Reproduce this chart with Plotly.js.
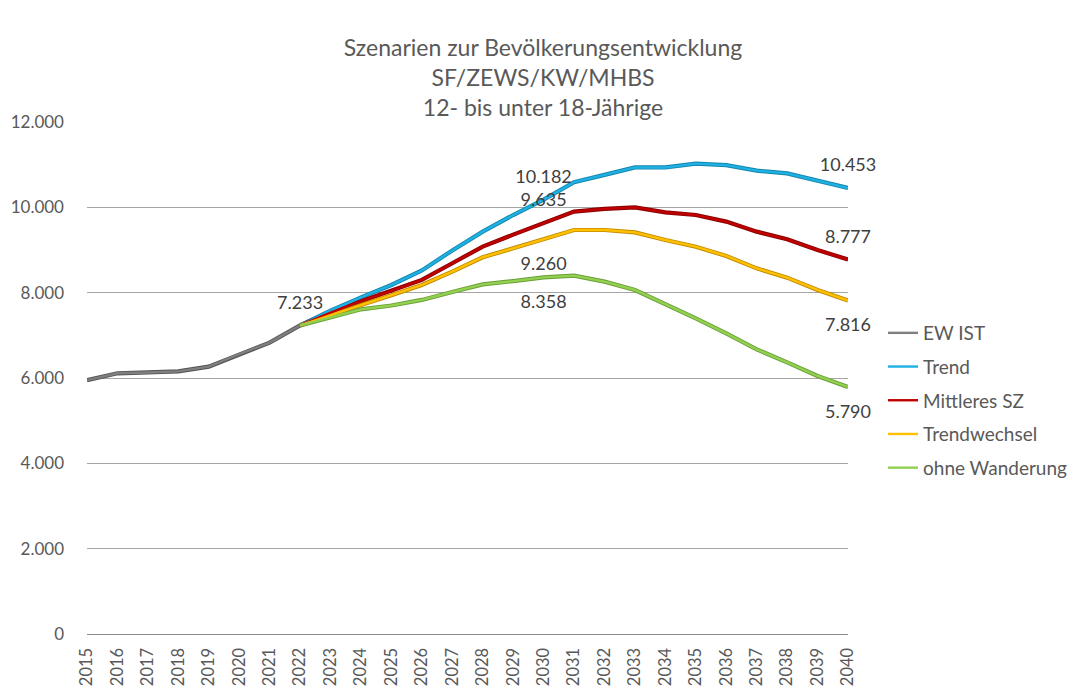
<!DOCTYPE html>
<html>
<head>
<meta charset="utf-8">
<script src="https://cdn.plot.ly/plotly-3.0.1.min.js"></script>
<style>html,body{margin:0;padding:0;background:#fff;}#chart{width:1072px;height:686px;}</style>
</head>
<body>
<div id="chart"></div>
<script>
var yearsIst = [2015, 2016, 2017, 2018, 2019, 2020, 2021, 2022];
var ewIst = [5950, 6110, 6130, 6155, 6265, 6560, 6830, 7233];

var yearsProg = [2022, 2023, 2024, 2025, 2026, 2027, 2028, 2029, 2030, 2031, 2032, 2033, 2034, 2035, 2036, 2037, 2038, 2039, 2040];
var trend = [7233, 7580, 7890, 8180, 8520, 8990, 9430, 9820, 10182, 10590, 10760, 10935, 10935, 11025, 10990, 10860, 10795, 10625, 10453];
var mittleres = [7233, 7530, 7800, 8040, 8300, 8690, 9080, 9360, 9635, 9900, 9965, 10000, 9883, 9820, 9665, 9430, 9250, 9000, 8777];
var trendwechsel = [7233, 7480, 7710, 7940, 8180, 8495, 8830, 9040, 9260, 9469, 9469, 9414, 9234, 9078, 8860, 8570, 8352, 8063, 7816];
var ohneWanderung = [7233, 7420, 7610, 7700, 7830, 8015, 8195, 8270, 8358, 8400, 8258, 8063, 7734, 7398, 7047, 6672, 6367, 6047, 5790];

var seriesNames = ['EW IST', 'Trend', 'Mittleres SZ', 'Trendwechsel', 'ohne Wanderung'];
var seriesColors = ['#7f7f7f', '#1fb1e3', '#c00000', '#ffc000', '#92d050'];
var seriesEdges = ['#555555', '#1486ad', '#8a0000', '#c08a00', '#6a9e38'];

var titleLines = ['Szenarien zur Bevölkerungsentwicklung', 'SF/ZEWS/KW/MHBS', '12- bis unter 18-Jährige'];
var tickYears = [];
for (var yy = 2015; yy <= 2040; yy++) tickYears.push(yy);

var seriesX = [yearsIst, yearsProg, yearsProg, yearsProg, yearsProg];
var seriesY = [ewIst, trend, mittleres, trendwechsel, ohneWanderung];

// label definitions: [seriesIndex, year, position]
var labelDefs = [
  [0, 2022, 'top center'],
  [1, 2030, 'top center'],
  [2, 2030, 'top center'],
  [3, 2030, 'bottom center'],
  [4, 2030, 'bottom center'],
  [1, 2040, 'top center'],
  [2, 2040, 'top center'],
  [3, 2040, 'bottom center'],
  [4, 2040, 'bottom center']
];

var font = 'Lato, "Open Sans", sans-serif';
var traces = [];
// edges
for (var i = 0; i < seriesNames.length; i++) {
  traces.push({
    x: seriesX[i], y: seriesY[i], type: 'scatter', mode: 'lines',
    line: {color: seriesEdges[i], width: 4.2},
    showlegend: false, hoverinfo: 'skip'
  });
}
for (var i = 0; i < seriesNames.length; i++) {
  traces.push({
    x: seriesX[i], y: seriesY[i], type: 'scatter', mode: 'lines',
    name: seriesNames[i],
    line: {color: seriesColors[i], width: 2.4},
    legendgroup: 'g' + i
  });
}
labelDefs.forEach(function (d) {
  var idx = seriesX[d[0]].indexOf(d[1]);
  traces.push({
    x: [d[1]], y: [seriesY[d[0]][idx]], type: 'scatter', mode: 'markers+text',
    marker: {size: d[2].indexOf('top') === 0 ? 18 : 26, color: 'rgba(0,0,0,0)'},
    texttemplate: '%{y:,.0f}', textposition: d[2],
    textfont: {family: font, size: 18, color: '#404040'},
    showlegend: false, hoverinfo: 'skip', cliponaxis: false
  });
});

var layout = {
  width: 1072, height: 686,
  paper_bgcolor: '#ffffff', plot_bgcolor: '#ffffff',
  separators: ',.',
  margin: {l: 87, r: 224, t: 122, b: 52, pad: 0, autoexpand: false},
  font: {family: font, color: '#595959'},
  title: {
    text: titleLines.join('<br>'),
    font: {family: font, size: 23, color: '#595959'},
    x: 543 / 1072, xanchor: 'center', xref: 'container',
    y: 1 - 56 / 686, yanchor: 'middle', yref: 'container'
  },
  xaxis: {
    type: 'linear', range: [2015, 2040],
    tickmode: 'array', tickvals: tickYears, ticktext: tickYears.map(String),
    tickangle: -90, tickfont: {family: font, size: 16.5, color: '#595959'},
    showgrid: false, zeroline: false,
    showline: true, linecolor: '#8c8c8c', linewidth: 1.3,
    ticks: '', ticklabelstandoff: 6, automargin: false
  },
  yaxis: {
    range: [0, 12000], tickmode: 'array',
    tickvals: [0, 2000, 4000, 6000, 8000, 10000, 12000],
    tickformat: ',.0f',
    tickfont: {family: font, size: 17, color: '#595959'},
    showgrid: true, gridcolor: '#a6a6a6', gridwidth: 1,
    zeroline: false, showline: false, ticks: '', ticklabelstandoff: 22, automargin: false
  },
  legend: {
    x: (883 - 87) / 761, xanchor: 'left',
    y: (634 - 314) / 512, yanchor: 'top',
    font: {family: font, size: 19, color: '#595959'},
    itemwidth: 30, traceorder: 'grouped', tracegroupgap: 6,
    bgcolor: 'rgba(0,0,0,0)'
  },
  showlegend: true
};

Plotly.newPlot('chart', traces, layout, {displayModeBar: false, staticPlot: true});
</script>
</body>
</html>
